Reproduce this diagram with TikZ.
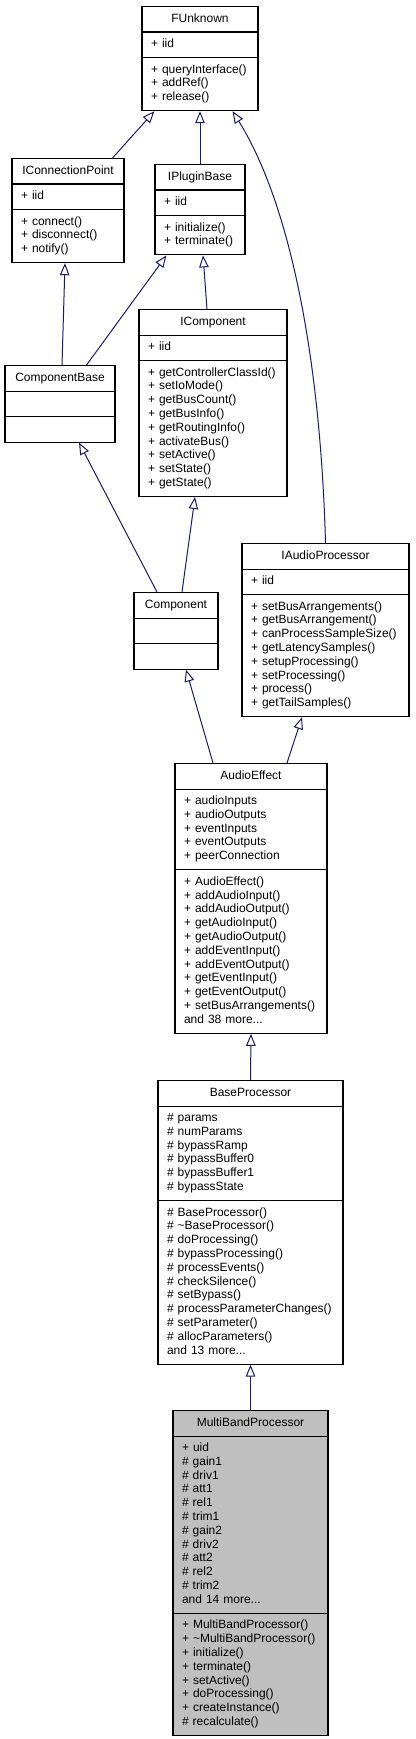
\documentclass[tikz,border=0pt]{standalone}
\usepackage{fontspec}
\setmainfont{Liberation Sans}
\usetikzlibrary{arrows.meta,shapes.multipart}
\definecolor{edgeblue}{HTML}{191970}

\begin{document}
\begin{tikzpicture}[x=1pt, y=-1pt,
    cls/.style={rectangle split, rectangle split parts=3, draw, line width=1.1pt, anchor=north,
        align=left, font=\fontsize{12}{13.8}\selectfont, inner xsep=9pt, inner ysep=5.3pt, fill=white},
    inh/.style={-{Triangle[fill=white, length=12pt, width=9.5pt]}, edgeblue, line width=1pt}
]
\useasboundingbox (0,0) rectangle (415,1739);

\node[cls, text width=98pt] (fu) at (200,6) {\strut\hfill FUnknown\hfill\strut
    \nodepart{two}\strut+ iid
    \nodepart{three}\strut+ queryInterface()\\+ addRef()\\\strut+ release()};
\node[cls, text width=94pt] (icp) at (68,158) {\strut\hfill IConnectionPoint\hfill\strut
    \nodepart{two}\strut+ iid
    \nodepart{three}\strut+ connect()\\+ disconnect()\\\strut+ notify()};
\node[cls, text width=72pt] (ipb) at (200,164) {\strut\hfill IPluginBase\hfill\strut
    \nodepart{two}\strut+ iid
    \nodepart{three}\strut+ initialize()\\\strut+ terminate()};
\node[cls, text width=92pt] (cb) at (60,365) {\strut\hfill ComponentBase\hfill\strut
    \nodepart{two}\strut
    \nodepart{three}\strut};
\node[cls, text width=130pt] (ic) at (213,309) {\strut\hfill IComponent\hfill\strut
    \nodepart{two}\strut+ iid
    \nodepart{three}\strut+ getControllerClassId()\\+ setIoMode()\\+ getBusCount()\\+ getBusInfo()\\+ getRoutingInfo()\\+ activateBus()\\+ setActive()\\+ setState()\\\strut+ getState()};
\node[cls, text width=149pt] (iap) at (325.5,543) {\strut\hfill IAudioProcessor\hfill\strut
    \nodepart{two}\strut+ iid
    \nodepart{three}\strut+ setBusArrangements()\\+ getBusArrangement()\\+ canProcessSampleSize()\\+ getLatencySamples()\\+ setupProcessing()\\+ setProcessing()\\+ process()\\\strut+ getTailSamples()};
\node[cls, text width=66pt] (comp) at (176,592) {\strut\hfill Component\hfill\strut
    \nodepart{two}\strut
    \nodepart{three}\strut};
\node[cls, text width=134pt] (ae) at (251,763) {\strut\hfill AudioEffect\hfill\strut
    \nodepart{two}\strut+ audioInputs\\+ audioOutputs\\+ eventInputs\\+ eventOutputs\\\strut+ peerConnection
    \nodepart{three}\strut+ AudioEffect()\\+ addAudioInput()\\+ addAudioOutput()\\+ getAudioInput()\\+ getAudioOutput()\\+ addEventInput()\\+ addEventOutput()\\+ getEventInput()\\+ getEventOutput()\\+ setBusArrangements()\\\strut and 38 more...};
\node[cls, text width=167pt] (bp) at (250.5,1080) {\strut\hfill BaseProcessor\hfill\strut
    \nodepart{two}\strut\# params\\\# numParams\\\# bypassRamp\\\# bypassBuffer0\\\# bypassBuffer1\\\strut\# bypassState
    \nodepart{three}\strut\# BaseProcessor()\\\# \textasciitilde BaseProcessor()\\\# doProcessing()\\\# bypassProcessing()\\\# processEvents()\\\# checkSilence()\\\# setBypass()\\\# processParameterChanges()\\\# setParameter()\\\# allocParameters()\\\strut and 13 more...};
\node[cls, text width=137pt, fill=black!25] (mbp) at (250.5,1410) {\strut\hfill MultiBandProcessor\hfill\strut
    \nodepart{two}\strut+ uid\\\# gain1\\\# driv1\\\# att1\\\# rel1\\\# trim1\\\# gain2\\\# driv2\\\# att2\\\# rel2\\\# trim2\\\strut and 14 more...
    \nodepart{three}\strut+ MultiBandProcessor()\\+ \textasciitilde MultiBandProcessor()\\+ initialize()\\+ terminate()\\+ setActive()\\+ doProcessing()\\+ createInstance()\\\strut\# recalculate()};

\draw[inh] ([xshift=-12pt]icp.north east) -- ([xshift=13pt]fu.south west);
\draw[inh] (ipb.north) -- (fu.south);
\draw[inh] (iap.north) .. controls +(-5,-183) and +(58,93) .. ([xshift=-26pt]fu.south east);
\draw[inh] ([xshift=2pt]cb.north) -- ([xshift=-3pt]icp.south);
\draw[inh] ([xshift=-29pt]cb.north east) -- ([xshift=12pt]ipb.south west);
\draw[inh] ([xshift=-6pt]ic.north) -- ([xshift=3pt]ipb.south);
\draw[inh] ([xshift=-19pt]comp.north) -- ([xshift=19pt]cb.south);
\draw[inh] ([xshift=6pt]comp.north) -- ([xshift=-18pt]ic.south);
\draw[inh] ([xshift=-38pt]ae.north) -- ([xshift=10pt]comp.south);
\draw[inh] ([xshift=36pt]ae.north) -- ([xshift=-23.5pt]iap.south);
\draw[inh] (bp.north) -- (ae.south);
\draw[inh] (mbp.north) -- (bp.south);
\end{tikzpicture}
\end{document}
